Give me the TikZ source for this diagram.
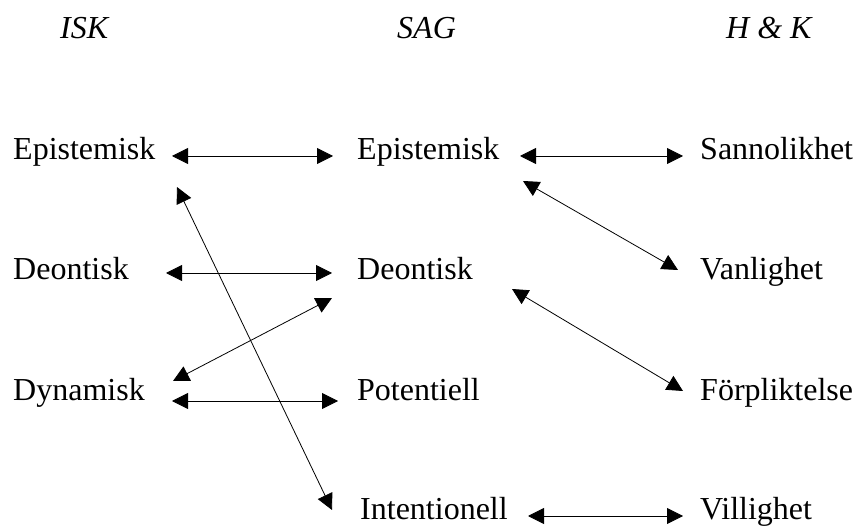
\documentclass[tikz,border=0pt]{standalone}
\usepackage{fontspec}
\setmainfont{Liberation Serif}
\usetikzlibrary{arrows.meta,calc}
\tikzset{
  lbl/.style={anchor=base west, inner sep=0pt, font=\fontsize{32}{38}\selectfont},
  hdr/.style={lbl, font=\fontsize{32}{38}\selectfont\itshape},
  arr/.style={arrows={Triangle[length=16pt,width=16pt]-Triangle[length=16pt,width=16pt]}, line width=0.8pt}
}
\begin{document}
\begin{tikzpicture}[x=1pt,y=-1pt]
\useasboundingbox (0,0) rectangle (854,526);
% headers
\node[hdr] (hisk) at (60,39) {ISK};
\node[hdr] (hsag) at (397,39) {SAG};
\node[hdr] (hhk) at (726,39) {H \& K};
% column 1
\node[lbl] (isk1) at (13,160) {Epistemisk};
\node[lbl] (isk2) at (13,280) {Deontisk};
\node[lbl] (isk3) at (13,401) {Dynamisk};
% column 2
\node[lbl] (sag1) at (357,160) {Epistemisk};
\node[lbl] (sag2) at (357,280) {Deontisk};
\node[lbl] (sag3) at (357,401) {Potentiell};
\node[lbl] (sag4) at (360,519) {Intentionell};
% column 3
\node[lbl] (hk1) at (700,160) {Sannolikhet};
\node[lbl] (hk2) at (700,280) {Vanlighet};
\node[lbl] (hk3) at (700,401) {Förpliktelse};
\node[lbl] (hk4) at (700,519) {Villighet};
% connectors
\draw[arr] ($(isk1.base west)+(159,-4)$) -- ($(sag1.base west)+(-24,-4)$);
\draw[arr] ($(isk2.base west)+(153,-7)$) -- ($(sag2.base west)+(-25,-7)$);
\draw[arr] ($(isk3.base west)+(159,0)$) -- ($(sag3.base west)+(-19,0)$);
\draw[arr] ($(isk3.base west)+(160,-20)$) -- ($(sag2.base west)+(-25,18)$);
\draw[arr] ($(isk1.base west)+(164,27)$) -- ($(sag4.base west)+(-28,-9)$);
\draw[arr] ($(sag1.base west)+(163,-4)$) -- ($(hk1.base west)+(-17,-4)$);
\draw[arr] ($(sag1.base west)+(166,21)$) -- ($(hk2.base west)+(-22,-10)$);
\draw[arr] ($(sag2.base west)+(155,9)$) -- ($(hk3.base west)+(-17,-10)$);
\draw[arr] ($(sag4.base west)+(168,-3)$) -- ($(hk4.base west)+(-17,-3)$);
\end{tikzpicture}
\end{document}
